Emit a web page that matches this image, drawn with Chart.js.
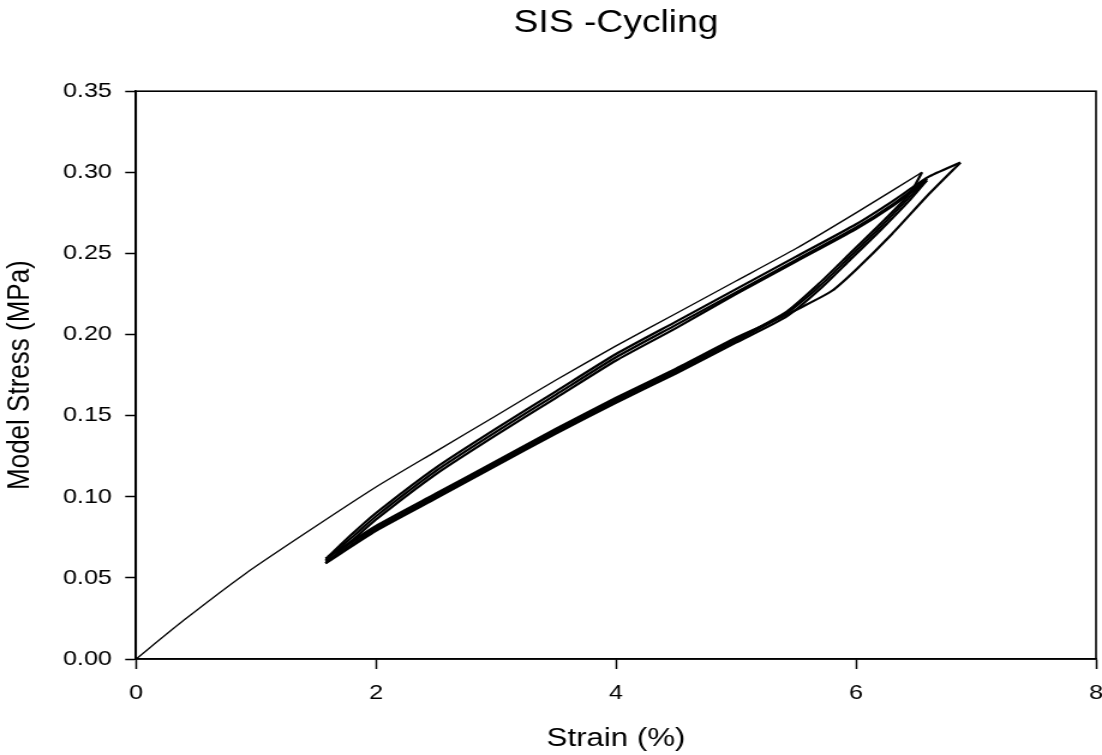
<!DOCTYPE html>
<html>
<head>
<meta charset="utf-8">
<title>SIS -Cycling</title>
<script src="https://cdn.jsdelivr.net/npm/chart.js@4.4.1/dist/chart.umd.min.js"></script>
<style>
  html, body { margin: 0; padding: 0; background: #fff; overflow: hidden; }
  /* la imagen original esta estirada en horizontal: se reproduce con scaleX */
  #marco { width: 918px; height: 755px; transform: scaleX(1.20044); transform-origin: 0 0; }
</style>
</head>
<body>
<div id="marco"><canvas id="graficoCiclos"></canvas></div>
<script>
// ==========================================================================
// DATOS (deformacion % / esfuerzo MPa)
// ==========================================================================
const tickX = [0, 2, 4, 6, 8];
const tickY = [0, 0.05, 0.10, 0.15, 0.20, 0.25, 0.30, 0.35];

// carga inicial (linea fina desde el origen)
const strainCarga0 = [0, 0.4, 0.9, 1.4, 2.0, 2.5, 3.0, 3.5, 4.0, 4.5, 5.0, 5.5, 6.0, 6.55];
const stressCarga0 = [0, 0.024, 0.052, 0.077, 0.106, 0.128, 0.150, 0.172, 0.193, 0.213, 0.233, 0.253, 0.275, 0.300];

// recargas (banda superior)
const strainRecarga = [1.58, 1.8, 2.0, 2.5, 3.0, 3.5, 4.0, 4.5, 5.0, 5.5, 6.0, 6.3, 6.59];
const stressRecarga2 = [0.061, 0.075, 0.088, 0.116, 0.140, 0.163, 0.186, 0.206, 0.226, 0.246, 0.266, 0.280, 0.296];
const stressRecarga3 = [0.059, 0.073, 0.086, 0.114, 0.138, 0.161, 0.184, 0.204, 0.225, 0.245, 0.265, 0.279, 0.295];
const strainRecarga4 = [1.6, 1.8, 2.0, 2.5, 3.0, 3.5, 4.0, 4.5, 5.0, 5.5, 6.0, 6.3, 6.6, 6.87];
const stressRecarga4 = [0.063, 0.077, 0.090, 0.118, 0.142, 0.165, 0.188, 0.208, 0.228, 0.248, 0.268, 0.282, 0.297, 0.306];

// descargas interiores (banda inferior)
const strainDescarga1 = [6.55, 6.45, 6.2, 5.95, 5.7, 5.42, 5.0, 4.5, 4.0, 3.5, 3.0, 2.5, 2.0, 1.58];
const stressDescarga1 = [0.300, 0.287, 0.268, 0.250, 0.232, 0.214, 0.197, 0.178, 0.160, 0.141, 0.121, 0.101, 0.081, 0.062];
const strainDescarga2 = [6.59, 6.45, 6.2, 5.95, 5.7, 5.42, 5.0, 4.5, 4.0, 3.5, 3.0, 2.5, 2.0, 1.58];
const stressDescarga2 = [0.296, 0.285, 0.266, 0.248, 0.230, 0.213, 0.196, 0.177, 0.159, 0.140, 0.120, 0.100, 0.080, 0.060];
const stressDescarga3 = [0.295, 0.283, 0.264, 0.246, 0.228, 0.211, 0.195, 0.176, 0.158, 0.139, 0.119, 0.099, 0.079, 0.059];

// descarga exterior desde el pico maximo
const strainDescarga4 = [6.87, 6.6, 6.3, 6.0, 5.8, 5.55, 5.3, 5.0, 4.5, 4.0, 3.5, 3.0, 2.5, 2.0, 1.6];
const stressDescarga4 = [0.306, 0.286, 0.262, 0.240, 0.227, 0.217, 0.208, 0.198, 0.179, 0.161, 0.142, 0.122, 0.102, 0.082, 0.063];

// ==========================================================================
// GEOMETRIA (coordenadas sin estirar)
// ==========================================================================
const ESTIRADO = 1102 / 918;
const FUENTE = "'Liberation Sans', Arial, sans-serif";

function puntos(xs, ys) {
    return xs.map((x, i) => ({ x: x, y: ys[i] }));
}

function serie(xs, ys, grosor) {
    return {
        data: puntos(xs, ys),
        showLine: true,
        borderColor: '#000',
        borderWidth: grosor,
        pointRadius: 0,
        tension: 0.2,
        fill: false
    };
}

// marco completo alrededor del area del grafico
const pluginMarco = {
    id: 'marco',
    afterDatasetsDraw(chart) {
        const a = chart.chartArea;
        const ctx = chart.ctx;
        ctx.save();
        ctx.strokeStyle = '#000';
        ctx.lineWidth = 1.6;
        ctx.strokeRect(a.left, a.top, a.right - a.left, a.bottom - a.top);
        ctx.restore();
    }
};

const ctx = document.getElementById('graficoCiclos').getContext('2d');
new Chart(ctx, {
    type: 'scatter',
    data: {
        datasets: [
            serie(strainCarga0, stressCarga0, 1.3),
            serie(strainDescarga1, stressDescarga1, 2.2),
            serie(strainRecarga, stressRecarga2, 2.2),
            serie(strainDescarga2, stressDescarga2, 2.2),
            serie(strainRecarga, stressRecarga3, 2.2),
            serie(strainDescarga2, stressDescarga3, 2.2),
            serie(strainRecarga4, stressRecarga4, 2.2),
            serie(strainDescarga4, stressDescarga4, 2.2)
        ]
    },
    options: {
        responsive: true,
        maintainAspectRatio: false,
        animation: false,
        layout: { padding: { left: 0, right: 5, top: 0, bottom: 0 } },
        plugins: {
            legend: { display: false },
            tooltip: { enabled: false },
            title: {
                display: true,
                text: 'SIS -Cycling',
                fullSize: false,
                color: '#000',
                font: { family: FUENTE, size: 31, weight: 'normal', lineHeight: 1.2 },
                padding: { top: 5, bottom: 49 }
            }
        },
        scales: {
            x: {
                type: 'linear',
                min: 0,
                max: 8,
                afterBuildTicks: s => { s.ticks = tickX.map(v => ({ value: v })); },
                afterFit: s => { s.height = 96; s.paddingLeft = 0; s.paddingRight = 0; },
                ticks: {
                    color: '#000',
                    padding: 12,
                    maxRotation: 0,
                    font: { family: FUENTE, size: 21 },
                    callback: v => String(v)
                },
                grid: {
                    drawOnChartArea: false,
                    drawTicks: true,
                    tickLength: 10,
                    tickColor: '#000',
                    tickWidth: 1.5
                },
                border: { display: true, color: '#000', width: 1.6 },
                title: {
                    display: true,
                    text: 'Strain (%)',
                    color: '#000',
                    font: { family: FUENTE, size: 26, lineHeight: 1.2 },
                    padding: { top: 0, bottom: 1 }
                }
            },
            y: {
                type: 'linear',
                min: 0,
                max: 0.35,
                afterBuildTicks: s => { s.ticks = tickY.map(v => ({ value: v })); },
                afterFit: s => { s.width = 136 / ESTIRADO; s.paddingTop = 0; s.paddingBottom = 0; },
                ticks: {
                    color: '#000',
                    padding: 11,
                    font: { family: FUENTE, size: 21 },
                    callback: v => v.toFixed(2)
                },
                grid: {
                    drawOnChartArea: false,
                    drawTicks: true,
                    tickLength: 9,
                    tickColor: '#000',
                    tickWidth: 1.5
                },
                border: { display: true, color: '#000', width: 1.6 },
                title: {
                    display: true,
                    text: 'Model Stress (MPa)',
                    color: '#000',
                    font: { family: FUENTE, size: 26, lineHeight: 1.2 },
                    padding: { top: 1, bottom: 0 }
                }
            }
        }
    },
    plugins: [pluginMarco]
});
</script>
</body>
</html>
